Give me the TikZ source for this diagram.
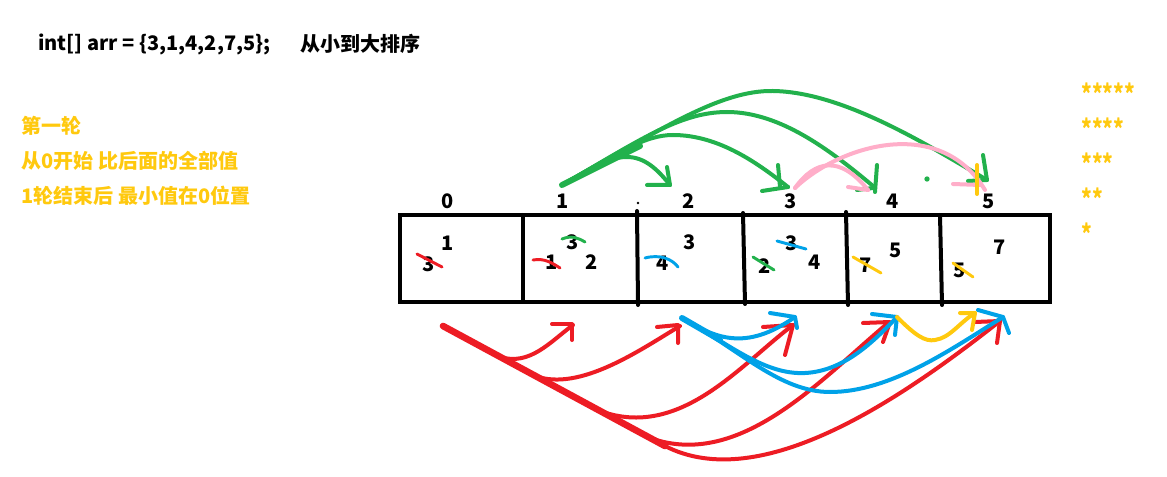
\documentclass[tikz,border=0pt]{standalone}
\usepackage{fontspec}
\setmainfont{Noto Sans CJK SC}
\definecolor{pred}{HTML}{ED1C24}
\definecolor{pgreen}{HTML}{22B14C}
\definecolor{pblue}{HTML}{00A2E8}
\definecolor{ppink}{HTML}{FFAEC9}
\definecolor{pyellow}{HTML}{FFC90E}
\tikzset{
  txt/.style={inner sep=0pt, font=\fontsize{15pt}{18pt}\selectfont\bfseries},
  ytxt/.style={txt, text=pyellow, anchor=base west},
  startxt/.style={inner sep=0pt, text=pyellow, anchor=west, font=\fontsize{19pt}{20pt}\selectfont\bfseries},
  num/.style={txt},
  boxline/.style={line width=3pt, line cap=round},
  pen/.style={line width=3pt, line cap=round, line join=round},
  thin pen/.style={line width=2.2pt, line cap=round, line join=round},
}
\begin{document}
\begin{tikzpicture}[x=0.75pt,y=-0.75pt]
\fill[white] (0,0) rectangle (1167,477);
\useasboundingbox (0,0) rectangle (1167,477);

% header texts
\node[txt, anchor=base west] (code) at (38,51) {int[] arr = \{3,1,4,2,7,5\};};
\node[txt, anchor=base west] (title) at (300,52) {从小到大排序};
\node[ytxt] (l1) at (21,134) {第一轮};
\node[ytxt] (l2) at (21,169) {从0开始 比后面的全部值};
\node[ytxt] (l3) at (21,204) {1轮结束后 最小值在0位置};

% stars
\node[startxt] (s5) at (1081,93) {\scalebox{0.8}[1]{*****}};
\node[startxt] (s4) at (1081,128) {\scalebox{0.8}[1]{****}};
\node[startxt] (s3) at (1081,163) {\scalebox{0.8}[1]{***}};
\node[startxt] (s2) at (1081,198) {\scalebox{0.8}[1]{**}};
\node[startxt] (s1) at (1081,233) {\scalebox{0.8}[1]{*}};

% array box
\draw[boxline] (400,215) rectangle (1050,302);
\draw[boxline] (523,215) -- (523,302);
\draw[boxline] (637,211) -- (638,305);
\draw[boxline] (743,213) -- (745,304);
\draw[boxline] (846,212) -- (848,305);
\draw[boxline] (940,215) -- (942,305);
\fill (638,203) circle (1pt);

% indices
\node[num] (i0) at (448,201) {0};
\node[num] (i1) at (563,201) {1};
\node[num] (i2) at (689,201) {2};
\node[num] (i3) at (791,201) {3};
\node[num] (i4) at (893,201) {4};
\node[num] (i5) at (989,201) {5};

% cell contents
\node[num] (c0a) at (448,243) {1};
\node[num] (c0b) at (429,264) {3};
\node[num] (c1a) at (573,242) {3};
\node[num] (c1b) at (552,262) {1};
\node[num] (c1c) at (592,262) {2};
\node[num] (c2a) at (690,242) {3};
\node[num] (c2b) at (663,263) {4};
\node[num] (c3a) at (792,243) {3};
\node[num] (c3b) at (765,266) {2};
\node[num] (c3c) at (815,262) {4};
\node[num] (c4a) at (896,250) {5};
\node[num] (c4b) at (866,265) {7};
\node[num] (c5a) at (1000,247) {7};
\node[num] (c5b) at (960,270) {5};

% strike marks
\draw[thin pen, pred] (417,254) -- (442,267);
\draw[thin pen, pgreen] (562,239) .. controls (572,235) and (578,238) .. (585,242);
\draw[thin pen, pred] (533,260) .. controls (545,258) and (552,263) .. (560,268);
\draw[thin pen, pblue] (645,258) .. controls (660,254) and (672,259) .. (678,267);
\draw[thin pen, pblue] (777,241) -- (806,249);
\draw[thin pen, pgreen] (753,257) -- (774,270);
\draw[thin pen, pyellow] (853,257) -- (881,273);
\draw[thin pen, pyellow] (953,263) -- (973,277);

% green arrows (top)
\draw[pen, line width=4.5pt, pgreen] (562,185) -- (640,146);
\draw[pen, pgreen] (562,185) .. controls (595,166) and (610,157) .. (627,157) .. controls (645,157) and (658,170) .. (670,185);
\draw[pen, pgreen] (562,185) .. controls (620,152) and (645,135) .. (673,135) .. controls (720,135) and (760,165) .. (788,187);
\draw[pen, pgreen] (562,185) .. controls (640,140) and (680,112) .. (727,112) .. controls (780,112) and (830,150) .. (873,186);
\draw[pen, pgreen] (562,185) .. controls (660,130) and (720,90) .. (773,91) .. controls (840,92) and (920,140) .. (987,180);
\draw[pen, pgreen] (647,185) -- (670,185) -- (667,167);
\draw[pen, pgreen] (762,191) -- (788,187);
\draw[pen, pgreen] (780,187) -- (778,165);
\draw[pen, pgreen] (857,190) -- (873,188);
\draw[pen, pgreen] (877,165) -- (875,192);
\draw[pen, pgreen] (968,181) -- (987,180) -- (983,155);
\fill[pgreen] (927,179) circle (2pt);

% pink arrows
\draw[pen, ppink] (795,188) .. controls (815,160) and (840,155) .. (868,190);
\draw[pen, ppink] (795,188) .. controls (840,145) and (940,115) .. (985,190);
\draw[pen, ppink] (848,187) -- (868,190);
\draw[pen, ppink] (953,184) -- (980,185);
\draw[pen, pyellow] (977,165) -- (977,194);

% red arrows (bottom)
\draw[pen, line width=5pt, pred] (443,326) -- (665,446);
\draw[pen, pred] (443,326) -- (500,357) .. controls (530,366) and (550,342) .. (573,325);
\draw[pen, pred] (443,326) -- (535,376) .. controls (580,392) and (640,350) .. (680,326);
\draw[pen, pred] (443,326) -- (600,411) .. controls (680,440) and (740,365) .. (793,325);
\draw[pen, pred] (443,326) -- (650,438) .. controls (740,470) and (820,380) .. (888,323);
\draw[pen, pred] (443,326) -- (665,446) .. controls (760,495) and (900,400) .. (1000,321);
\draw[pen, pred] (552,324) -- (572,324) -- (572,340);
\draw[pen, pred] (657,327) -- (678,325) -- (678,343);
\draw[pen, pred] (763,327) -- (793,325) -- (785,355);
\draw[pen, pred] (863,323) -- (890,322) -- (883,342);
\draw[pen, pred] (975,322) -- (1000,321) -- (997,343);

% blue arrows
\draw[pen, line width=4.5pt, pblue] (682,318) -- (720,340);
\draw[pen, pblue] (682,318) .. controls (715,338) and (745,352) .. (795,317);
\draw[pen, pblue] (682,318) .. controls (730,345) and (765,375) .. (805,373) .. controls (845,371) and (875,340) .. (897,317);
\draw[pen, pblue] (682,318) .. controls (740,350) and (780,392) .. (830,392) .. controls (890,392) and (950,350) .. (1003,317);
\draw[pen, pblue] (770,313) -- (795,317) -- (797,328);
\draw[pen, pblue] (872,314) -- (897,317) -- (895,335);
\draw[pen, pblue] (978,310) -- (1003,317) -- (1009,333);

% yellow arrow
\draw[pen, pyellow] (897,317) .. controls (915,335) and (925,342) .. (935,340) .. controls (950,338) and (960,322) .. (975,313);
\draw[pen, pyellow] (960,313) -- (975,313) -- (972,330);
\end{tikzpicture}
\end{document}
